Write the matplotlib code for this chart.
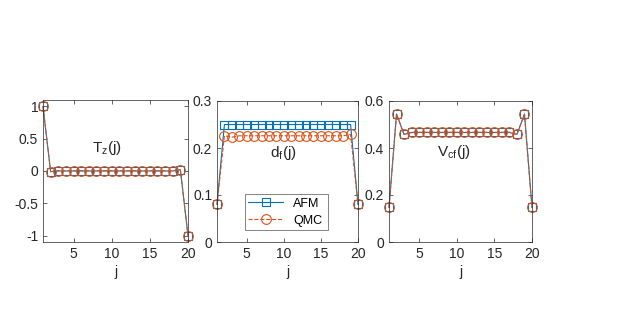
import numpy as np
import matplotlib.pyplot as plt

plt.rcParams['font.family'] = ['Liberation Sans', 'DejaVu Sans']
plt.rcParams['font.size'] = 10

j = np.arange(1, 21)

tz_afm = [1.0, -0.01] + [0.0] * 16 + [0.02, -1.0]
tz_qmc = [1.0, -0.01] + [0.005] * 16 + [0.02, -1.0]

df_afm = [0.08] + [0.25] * 18 + [0.08]
df_qmc = [0.08, 0.226, 0.223] + [0.226] * 15 + [0.229, 0.08]

vcf_afm = [0.147, 0.545, 0.458] + [0.466] * 14 + [0.458, 0.545, 0.147]
vcf_qmc = [0.147, 0.543, 0.458] + [0.467] * 14 + [0.458, 0.543, 0.147]

blue = '#0072BD'
orange = '#D95319'
dark = '#262626'

fig = plt.figure(figsize=(6.22, 3.14), dpi=100)
W, H = 622, 314

def make_ax(l, r, t, b):
    return fig.add_axes([l / W, 1 - b / H, (r - l) / W, (b - t) / H])

axes = [make_ax(43, 188, 100, 242),
        make_ax(217, 358, 101, 242),
        make_ax(389, 532, 101, 242)]

series = [(tz_afm, tz_qmc), (df_afm, df_qmc), (vcf_afm, vcf_qmc)]
ylims = [(-1.1, 1.1), (0, 0.3), (0, 0.6)]
yticks = [[-1, -0.5, 0, 0.5, 1], [0, 0.1, 0.2, 0.3], [0, 0.2, 0.4, 0.6]]
ylabels = [['-1', '-0.5', '0', '0.5', '1'], ['0', '0.1', '0.2', '0.3'], ['0', '0.2', '0.4', '0.6']]
titles = [(7.4, 0.36, r'T$_\mathregular{z}$(j)'), (8.1, 0.19, r'd$_\mathregular{f}$(j)'),
          (7.4, 0.385, r'V$_\mathregular{cf}$(j)')]

for ax, (a, q), yl, yt, ylab, (tx, ty, tt) in zip(axes, series, ylims, yticks, ylabels, titles):
    ax.plot(j, a, '-', color=blue, marker='s', ms=6, mfc='none', mew=0.8, lw=0.8, label='AFM', clip_on=False)
    ax.plot(j, q, '--', color=orange, marker='o', ms=7, mfc='none', mew=0.8, lw=0.8, label='QMC', clip_on=False)
    ax.set_xlim(1, 20)
    ax.set_ylim(*yl)
    ax.set_xticks([5, 10, 15, 20])
    ax.set_yticks(yt)
    ax.set_yticklabels(ylab)
    ax.tick_params(direction='in', top=True, right=True, length=3, width=0.5, colors=dark, labelsize=10)
    for s in ax.spines.values():
        s.set_color(dark)
        s.set_linewidth(0.5)
    ax.set_xlabel('j', color=dark, labelpad=3)
    ax.text(tx, ty, tt, ha='left', va='center', color=dark, fontsize=11)

leg = axes[1].legend(loc='lower left', bbox_to_anchor=(0.196, 0.083, 0.59, 0.242), mode='expand',
                     fontsize=9, frameon=True, fancybox=False, edgecolor=dark, handlelength=2.8,
                     borderaxespad=0, labelspacing=0.4, borderpad=0.3)
leg.get_frame().set_linewidth(0.5)

fig.savefig('out.png', dpi=100)
